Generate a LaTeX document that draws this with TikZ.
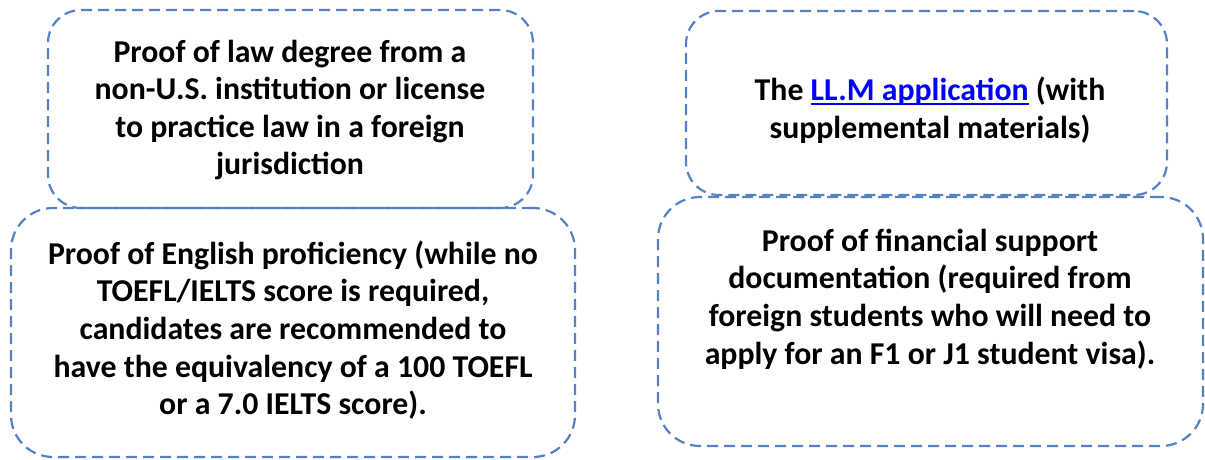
\documentclass[tikz,border=0pt]{standalone}
\usepackage{fontspec}
\setmainfont{Carlito}
\definecolor{boxblue}{RGB}{84,130,196}
\definecolor{linkblue}{RGB}{0,0,255}
\newcommand\linkul[1]{{\color{linkblue}\setbox0\hbox{#1}\rlap{\rule[-4pt]{\wd0}{1.8pt}}\box0}}
\begin{document}
\begin{tikzpicture}[x=1pt,y=-1pt,
  dbox/.style={draw=boxblue, line width=2.2pt, dash pattern=on 11pt off 6pt, inner sep=0pt},
  txt/.style={align=center, font=\fontsize{31.8}{37.6}\selectfont\bfseries, inner sep=0pt}]
\useasboundingbox (0,0) rectangle (1205,459);
\node[dbox, rounded corners=33pt, minimum width=485pt, minimum height=198pt] (b1) at (290.5,109) {};
\node[dbox, rounded corners=33pt, minimum width=481pt, minimum height=184pt] (b3) at (926.5,103) {};
\node[dbox, rounded corners=42pt, minimum width=564pt, minimum height=249pt] (b2) at (293,332.5) {};
\node[dbox, rounded corners=42pt, minimum width=545pt, minimum height=249pt] (b4) at (930.5,321.5) {};
\node[txt] (t1) at (290,110) {Proof of law degree from a\\non-U.S. institution or license\\to practice law in a foreign\\jurisdiction};
\node[txt] (t2) at (293,330) {Proof of English proficiency (while no\\TOEFL/IELTS score is required,\\candidates are recommended to\\have the equivalency of a 100 TOEFL\\or a 7.0 IELTS score).};
\node[txt] (t3) at (930,110) {The \linkul{LL.M application} (with\\supplemental materials)};
\node[txt] (t4) at (930,299) {Proof of financial support\\documentation (required from\\foreign students who will need to\\apply for an F1 or J1 student visa).};
\end{tikzpicture}
\end{document}
